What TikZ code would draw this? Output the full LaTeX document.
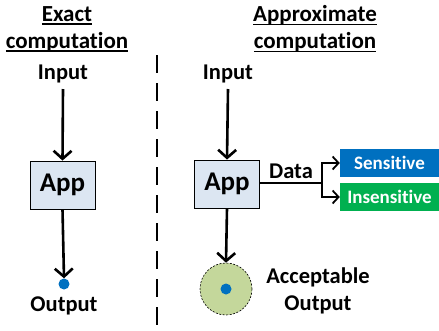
\documentclass[tikz,border=0pt]{standalone}
\usepackage{fontspec}
\setmainfont{Carlito}[RawFeature={-liga;-clig;-calt;-dlig}]
\usetikzlibrary{arrows.meta,positioning}
\definecolor{appfill}{HTML}{DCE6F2}
\definecolor{okfill}{HTML}{C4D79B}
\definecolor{outblue}{HTML}{0070C0}
\definecolor{insgreen}{HTML}{00B050}
\newcommand\ulword[1]{\setbox0\hbox{#1}\rlap{\rule[-3.8pt]{\wd0}{1.4pt}}\box0}

\begin{document}
\begin{tikzpicture}[x=1pt,y=-1pt,
    every node/.style={font=\bfseries\fontsize{22.5}{27}\selectfont, inner sep=0pt, align=center},
    heading/.style={font=\bfseries\fontsize{23}{27}\selectfont},
    appbox/.style={draw, line width=0.9pt, fill=appfill, minimum width=65pt, minimum height=48pt,
        font=\bfseries\fontsize{27}{30}\selectfont},
    flow/.style={-{Straight Barb[length=8pt,width=18pt]}, line width=2.6pt},
    branch/.style={-{Straight Barb[length=6pt,width=13pt]}, line width=1.8pt},
    dot/.style={circle, fill=outblue, minimum size=11pt},
    tag/.style={minimum width=99pt, minimum height=28pt, text=white,
        font=\bfseries\fontsize{19}{22}\selectfont}]
    \useasboundingbox (0,0) rectangle (439,330);
    % headings and the dashed split
    \node[heading] (headL) at (67,29) {\ulword{Exact}\\\ulword{computation}};
    \node[heading] (headR) at (315,29) {\ulword{Approximate}\\\ulword{computation}};
    \draw[line width=2pt, dash pattern=on 18pt off 10pt] (157,55) -- (157,330);
    % exact side
    \node (inL) at (63,74) {Input};
    \node[appbox] (appL) at (62.5,185) {App};
    \node[dot] (outL) at (64,284) {};
    \node (outLabel) at (64,306) {Output};
    \draw[flow] (63,89) -- (appL.north);
    \draw[flow] (appL.south) -- (outL.north);
    % approximate side
    \node (inR) at (228,74) {Input};
    \node[appbox] (appR) at (227,184) {App};
    \node[circle, draw, fill=okfill, line width=0.6pt, dash pattern=on 2pt off 1.5pt,
        minimum size=52pt] (okzone) at (226,289) {};
    \node[dot] (outR) at (okzone.center) {};
    \node (okLabel) at (318,291) {Acceptable\\Output};
    \draw[flow] (228,89) -- (appR.north);
    \draw[flow] (appR.south) -- (okzone.north);
    % data split
    \node[tag, fill=outblue] (sens) at (389.5,163) {Sensitive};
    \node[tag, fill=insgreen] (insens) at (389.5,197) {Insensitive};
    \coordinate (fork) at (322,183);
    \draw[line width=1.8pt] (appR.east |- fork) -- (fork) node[midway, above=3pt] (dataLabel) {Data};
    \draw[branch] (fork) |- (sens.west);
    \draw[branch] (fork) |- (insens.west);
\end{tikzpicture}
\end{document}
